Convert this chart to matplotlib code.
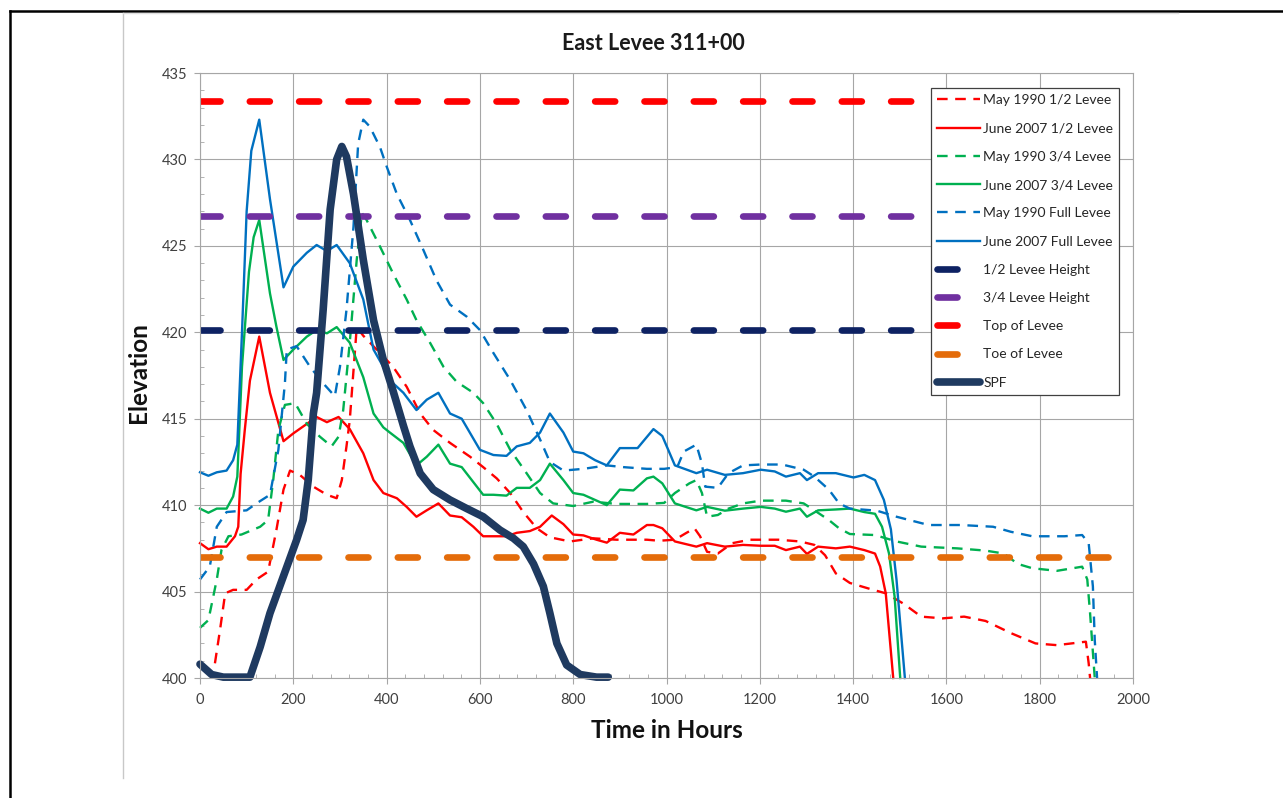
import matplotlib.pyplot as plt
from matplotlib.lines import Line2D
from matplotlib.ticker import MultipleLocator

plt.rcParams['font.family'] = ['Lato', 'DejaVu Sans']

# (hours, elevation)
may_half = [(32, 400.85), (43, 402.8), (54, 404.9), (71, 405.1), (100, 405.1), (121, 405.7),
            (146, 406.15), (164, 408.6), (179, 410.9), (193, 412.0), (214, 411.75), (243, 411.07),
            (272, 410.6), (293, 410.4), (304, 411.45), (314, 413.4), (321, 414.9), (336, 420.3),
            (350, 419.8), (393, 418.6), (414, 418.0), (443, 416.85), (472, 415.3), (500, 414.35),
            (536, 413.6), (579, 412.8), (607, 412.2), (636, 411.55), (665, 410.7), (693, 409.6),
            (722, 408.66), (750, 408.14), (793, 407.9), (843, 408.08), (893, 408.0), (958, 408.0),
            (984, 407.94), (1018, 408.0), (1041, 408.37), (1060, 408.66), (1072, 408.2),
            (1087, 407.3), (1110, 407.2), (1141, 407.8), (1179, 408.0), (1240, 408.0),
            (1286, 407.9), (1317, 407.7), (1340, 407.1), (1363, 406.05), (1393, 405.5),
            (1439, 405.13), (1470, 404.9), (1508, 404.3), (1546, 403.55), (1592, 403.45),
            (1638, 403.55), (1684, 403.3), (1738, 402.6), (1791, 402.0), (1837, 401.9),
            (1899, 402.1), (1905, 400.85), (1908, 400.0)]

june_half = [(0, 407.8), (18, 407.45), (36, 407.6), (57, 407.6), (75, 408.2), (82, 408.75),
             (87, 411.8), (96, 414.35), (107, 417.2), (127, 419.75), (150, 416.5), (179, 413.7),
             (200, 414.15), (229, 414.7), (250, 415.1), (272, 414.8), (297, 415.1), (321, 414.4),
             (350, 413.0), (372, 411.45), (393, 410.7), (422, 410.4), (443, 409.9), (464, 409.33),
             (486, 409.7), (511, 410.1), (536, 409.4), (561, 409.3), (586, 408.75), (607, 408.2),
             (629, 408.2), (657, 408.2), (679, 408.4), (707, 408.5), (729, 408.75), (754, 409.4),
             (779, 408.9), (800, 408.3), (822, 408.25), (850, 408.0), (872, 407.83), (900, 408.4),
             (929, 408.3), (958, 408.85), (972, 408.85), (991, 408.66), (1018, 407.9),
             (1064, 407.6), (1087, 407.8), (1125, 407.6), (1164, 407.7), (1202, 407.65),
             (1232, 407.65), (1256, 407.4), (1286, 407.6), (1301, 407.18), (1325, 407.6),
             (1363, 407.5), (1393, 407.6), (1424, 407.4), (1447, 407.2), (1458, 406.45),
             (1470, 404.9), (1486, 400.0)]

may_3q = [(0, 402.9), (18, 403.35), (36, 405.7), (46, 407.4), (61, 408.2), (89, 408.3),
          (129, 408.75), (146, 409.14), (157, 411.45), (168, 414.35), (182, 415.8), (204, 415.9),
          (229, 414.7), (257, 413.96), (282, 413.4), (297, 413.96), (307, 415.5), (321, 419.4),
          (336, 424.2), (347, 426.9), (357, 426.5), (386, 424.95), (414, 423.4), (443, 421.9),
          (464, 420.7), (493, 419.4), (522, 418.0), (550, 417.14), (586, 416.5), (607, 415.9),
          (636, 414.7), (665, 413.2), (700, 411.85), (729, 410.7), (757, 410.1), (800, 409.95),
          (843, 410.2), (893, 410.07), (958, 410.07), (995, 410.13), (1018, 410.7),
          (1049, 411.26), (1064, 411.45), (1076, 410.7), (1087, 409.33), (1110, 409.43),
          (1133, 409.8), (1164, 410.1), (1202, 410.26), (1256, 410.26), (1294, 410.1),
          (1317, 409.7), (1348, 409.14), (1370, 408.66), (1393, 408.33), (1447, 408.27),
          (1493, 407.9), (1546, 407.6), (1623, 407.5), (1684, 407.37), (1723, 407.2),
          (1753, 406.6), (1784, 406.35), (1837, 406.2), (1891, 406.44), (1902, 405.7),
          (1908, 403.75), (1918, 400.0)]

june_3q = [(0, 409.8), (18, 409.56), (36, 409.8), (57, 409.8), (71, 410.5), (80, 411.65),
           (90, 418.0), (105, 423.5), (115, 425.5), (127, 426.5), (150, 422.25), (164, 420.3),
           (179, 418.4), (200, 419.0), (229, 419.75), (250, 420.13), (272, 419.94), (293, 420.3),
           (321, 419.4), (350, 417.4), (372, 415.3), (393, 414.5), (407, 414.2), (436, 413.6),
           (464, 412.3), (486, 412.8), (511, 413.5), (536, 412.4), (561, 412.2), (607, 410.6),
           (629, 410.6), (657, 410.55), (679, 411.0), (707, 411.0), (729, 411.45), (750, 412.4),
           (779, 411.45), (800, 410.7), (822, 410.6), (847, 410.3), (872, 410.0), (900, 410.9),
           (929, 410.85), (958, 411.55), (972, 411.65), (991, 411.26), (1018, 410.1),
           (1064, 409.7), (1087, 409.9), (1125, 409.68), (1164, 409.8), (1202, 409.9),
           (1232, 409.8), (1256, 409.62), (1286, 409.8), (1301, 409.33), (1325, 409.7),
           (1363, 409.75), (1393, 409.8), (1424, 409.6), (1447, 409.5), (1462, 408.75),
           (1477, 407.2), (1489, 404.7), (1501, 400.0)]

may_full = [(0, 405.7), (21, 406.45), (36, 408.75), (57, 409.6), (100, 409.7), (121, 410.1),
            (150, 410.6), (168, 413.2), (182, 417.05), (186, 419.0), (207, 419.2), (236, 418.0),
            (264, 417.05), (289, 416.3), (300, 418.0), (314, 421.3), (329, 426.1), (339, 430.9),
            (350, 432.3), (364, 431.9), (386, 430.7), (400, 429.6), (422, 428.0), (450, 426.5),
            (479, 424.75), (507, 423.0), (536, 421.6), (572, 420.9), (600, 420.13), (629, 418.8),
            (665, 417.24), (700, 415.5), (729, 413.8), (750, 412.5), (779, 412.0), (822, 412.1),
            (872, 412.3), (907, 412.2), (958, 412.1), (995, 412.1), (1023, 412.2), (1037, 413.1),
            (1064, 413.5), (1076, 412.4), (1083, 411.07), (1110, 411.0), (1133, 411.85),
            (1164, 412.3), (1202, 412.35), (1248, 412.35), (1294, 412.05), (1317, 411.65),
            (1348, 410.9), (1370, 410.1), (1393, 409.8), (1451, 409.68), (1493, 409.33),
            (1562, 408.85), (1631, 408.85), (1700, 408.75), (1738, 408.46), (1784, 408.2),
            (1853, 408.2), (1891, 408.27), (1905, 407.8), (1914, 405.3), (1918, 402.2),
            (1923, 400.0)]

june_full = [(0, 411.9), (18, 411.7), (36, 411.9), (57, 412.0), (71, 412.6), (80, 413.5),
             (90, 420.0), (100, 427.0), (110, 430.5), (127, 432.3), (150, 427.7), (179, 422.6),
             (200, 423.8), (229, 424.6), (250, 425.05), (272, 424.7), (293, 425.05), (321, 424.0),
             (350, 421.9), (372, 419.0), (393, 418.0), (414, 417.05), (436, 416.5), (464, 415.5),
             (486, 416.1), (511, 416.5), (536, 415.3), (561, 415.0), (600, 413.2), (629, 412.9),
             (657, 412.85), (679, 413.4), (707, 413.6), (729, 414.2), (750, 415.3), (779, 414.2),
             (800, 413.1), (822, 413.0), (847, 412.6), (872, 412.3), (900, 413.3), (938, 413.3),
             (972, 414.4), (991, 414.0), (1018, 412.3), (1064, 411.85), (1087, 412.05),
             (1125, 411.75), (1164, 411.85), (1202, 412.05), (1232, 411.95), (1256, 411.65),
             (1286, 411.85), (1301, 411.45), (1325, 411.85), (1363, 411.85), (1401, 411.6),
             (1424, 411.75), (1447, 411.45), (1466, 410.3), (1481, 408.6), (1493, 405.7),
             (1511, 400.0)]

spf = [(0, 400.8), (25, 400.2), (50, 400.05), (107, 400.05), (129, 401.8), (150, 403.75),
       (179, 405.9), (207, 407.98), (221, 409.14), (232, 411.45), (243, 415.3), (250, 416.5),
       (264, 421.3), (279, 427.1), (293, 430.0), (304, 430.75), (314, 430.16), (329, 428.0),
       (350, 424.2), (372, 420.7), (393, 418.4), (414, 416.6), (436, 414.6), (450, 413.4),
       (472, 411.84), (500, 410.9), (536, 410.3), (572, 409.8), (607, 409.33), (643, 408.56),
       (672, 408.08), (693, 407.6), (715, 406.6), (736, 405.3), (750, 403.75), (765, 402.0),
       (786, 400.75), (815, 400.2), (850, 400.05), (875, 400.05)]

half_height = 420.15
three_q_height = 426.75
top_of_levee = 433.4
toe_of_levee = 407.0

fig = plt.figure(figsize=(12.83, 7.98), dpi=100)
ax = fig.add_axes([200 / 1283, 1 - 678 / 798, 933 / 1283, 605 / 798])

thin = 1.7
dash_thin = (4.5, 3.2)
series = [
    (may_half, 'May 1990 1/2 Levee', '#FF0000', True),
    (june_half, 'June 2007 1/2 Levee', '#FF0000', False),
    (may_3q, 'May 1990 3/4 Levee', '#00B050', True),
    (june_3q, 'June 2007 3/4 Levee', '#00B050', False),
    (may_full, 'May 1990 Full Levee', '#0070C0', True),
    (june_full, 'June 2007 Full Levee', '#0070C0', False),
]
for pts, label, color, dashed in series:
    t = [p[0] for p in pts]
    v = [p[1] for p in pts]
    line, = ax.plot(t, v, color=color, lw=thin, label=label, clip_on=False)
    if dashed:
        line.set_dashes(dash_thin)

levels = [
    (half_height, '1/2 Levee Height', '#0E2263'),
    (three_q_height, '3/4 Levee Height', '#7030A0'),
    (top_of_levee, 'Top of Levee', '#FF0000'),
    (toe_of_levee, 'Toe of Levee', '#E46C0A'),
]
for lev, label, color in levels:
    ax.plot([0, 2000], [lev, lev], color=color, lw=4.8, label=label,
            dashes=(3.0, 4.4), dash_capstyle='round')

ax.plot([p[0] for p in spf], [p[1] for p in spf], color='#1F3A60', lw=5.5,
        label='SPF', clip_on=False, solid_capstyle='round')

ax.set_xlim(0, 2000)
ax.set_ylim(400, 435)
ax.xaxis.set_major_locator(MultipleLocator(200))
ax.xaxis.set_minor_locator(MultipleLocator(40))
ax.yaxis.set_major_locator(MultipleLocator(5))
ax.yaxis.set_minor_locator(MultipleLocator(1))
ax.grid(True, which='major', color='#A6A6A6', lw=0.8)
ax.set_axisbelow(True)
for s in ax.spines.values():
    s.set_color('#A6A6A6')
    s.set_linewidth(0.8)
ax.tick_params(which='major', direction='out', length=4, color='#A6A6A6',
               labelsize=10.5, labelcolor='#404040')
ax.tick_params(axis='y', which='major', pad=5)
ax.tick_params(axis='x', which='major', pad=7)
ax.tick_params(which='minor', direction='in', length=3, color='#A6A6A6')

fig.text(653 / 1283, 1 - 43 / 798, 'East Levee 311+00', ha='center', va='center',
         fontsize=15.5, fontweight='bold', color='#1a1a1a')
fig.text(667 / 1283, 1 - 731 / 798, 'Time in Hours', ha='center', va='center',
         fontsize=17.5, fontweight='bold', color='#111111')
fig.text(139 / 1283, 1 - 373 / 798, 'Elevation', ha='center', va='center', rotation=90,
         fontsize=17.5, fontweight='bold', color='#111111')

leg = ax.legend(loc='upper left', bbox_to_anchor=(931 / 1283, 1 - 88 / 798),
                bbox_transform=fig.transFigure, fontsize=10, frameon=True,
                fancybox=False, framealpha=1, edgecolor='#404040', borderaxespad=0,
                borderpad=0.45, labelspacing=1.17, handlelength=3.1, handletextpad=0.2)
leg.get_frame().set_linewidth(0.9)
for txt in leg.get_texts():
    txt.set_color('#262626')

# page frame and chart area border
fig.add_artist(Line2D([10 / 1283, 10 / 1283], [0, 1 - 11 / 798], color='black', lw=1.8,
                      transform=fig.transFigure))
fig.add_artist(Line2D([10 / 1283, 1], [1 - 11 / 798, 1 - 11 / 798], color='black', lw=1.8,
                      transform=fig.transFigure))
fig.add_artist(Line2D([123 / 1283, 123 / 1283], [1 - 778 / 798, 1 - 13 / 798], color='#C8C8C8',
                      lw=1.0, transform=fig.transFigure))
fig.add_artist(Line2D([123 / 1283, 1178 / 1283], [1 - 13 / 798, 1 - 13 / 798], color='#E0E0E0',
                      lw=1.0, transform=fig.transFigure))

fig.savefig('out.png', dpi=100)
